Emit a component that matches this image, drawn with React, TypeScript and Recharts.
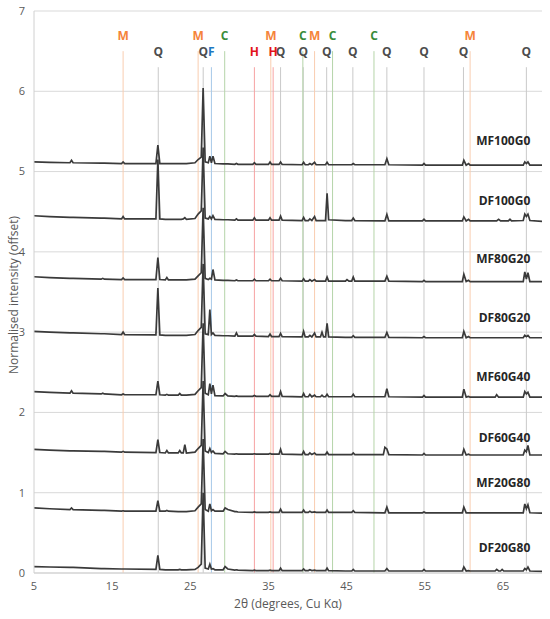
import { LineChart, Line, XAxis, YAxis, CartesianGrid, ReferenceLine, ReferenceDot } from 'recharts';

const twoTheta = [
  5, 7, 9.6, 9.8, 10.0, 13.6, 13.8, 14.0, 16.2, 16.4, 16.6,
  20.6, 20.85, 21.1, 21.8, 22.0, 22.2, 23.45, 23.65, 23.85, 24.1, 24.3, 24.5,
  25.6, 26.0, 26.4, 26.64, 26.9, 27.3, 27.5, 27.7, 27.9, 28.15,
  29.2, 29.45, 29.8, 30.7, 30.9, 31.1, 33.0, 33.2, 33.4, 35.0, 35.2, 35.4, 36.35, 36.55, 36.75,
  39.3, 39.5, 39.7, 40.1, 40.3, 40.55, 40.9, 41.1, 41.65, 41.85, 42.05, 42.3, 42.5, 42.7,
  44.85, 45.05, 45.3, 45.65, 45.85, 46.05, 49.7, 49.9, 50.15, 50.4, 54.7, 54.9, 55.1,
  59.8, 60.0, 60.3, 60.6, 60.8, 64.0, 64.2, 64.45, 64.7, 64.9, 65.1, 65.7, 65.9, 66.1,
  67.6, 67.8, 68.0, 68.2, 68.45, 70,
];

// normalised intensity of each sample (before offset)
const mf100g0 = [
  0.07, 0.065, 0.06, 0.09, 0.06, 0.055, 0.055, 0.055, 0.05, 0.07, 0.05,
  0.05, 0.28, 0.05, 0.05, 0.05, 0.05, 0.05, 0.05, 0.05, 0.05, 0.05, 0.05,
  0.06, 0.1, 0.13, 0.99, 0.07, 0.06, 0.14, 0.06, 0.14, 0.05,
  0.045, 0.045, 0.045, 0.04, 0.05, 0.04, 0.04, 0.06, 0.04, 0.04, 0.07, 0.04, 0.04, 0.07, 0.04,
  0.035, 0.065, 0.035, 0.035, 0.05, 0.035, 0.065, 0.035, 0.035, 0.035, 0.035, 0.035, 0.065, 0.035,
  0.035, 0.035, 0.035, 0.035, 0.05, 0.035, 0.035, 0.035, 0.11, 0.035, 0.03, 0.05, 0.03,
  0.03, 0.09, 0.03, 0.05, 0.03, 0.03, 0.03, 0.03, 0.03, 0.03, 0.03, 0.03, 0.03, 0.03,
  0.03, 0.07, 0.05, 0.07, 0.03, 0.03,
];
const df100g0 = [
  0.1, 0.09, 0.08, 0.08, 0.08, 0.07, 0.07, 0.07, 0.06, 0.09, 0.06,
  0.06, 0.8, 0.06, 0.055, 0.055, 0.055, 0.055, 0.055, 0.055, 0.06, 0.075, 0.055,
  0.065, 0.12, 0.16, 0.95, 0.07, 0.06, 0.09, 0.06, 0.1, 0.055,
  0.05, 0.05, 0.05, 0.045, 0.06, 0.045, 0.045, 0.075, 0.045, 0.045, 0.075, 0.045, 0.045, 0.095, 0.045,
  0.04, 0.08, 0.04, 0.04, 0.06, 0.04, 0.09, 0.04, 0.04, 0.04, 0.04, 0.04, 0.38, 0.05,
  0.04, 0.04, 0.04, 0.04, 0.07, 0.04, 0.035, 0.035, 0.115, 0.035, 0.035, 0.055, 0.035,
  0.035, 0.085, 0.035, 0.055, 0.035, 0.035, 0.035, 0.055, 0.035, 0.035, 0.035, 0.035, 0.055, 0.035,
  0.04, 0.12, 0.09, 0.12, 0.04, 0.03,
];
const mf80g20 = [
  0.09, 0.08, 0.07, 0.07, 0.07, 0.06, 0.07, 0.06, 0.055, 0.075, 0.055,
  0.055, 0.33, 0.055, 0.05, 0.08, 0.05, 0.05, 0.05, 0.05, 0.05, 0.05, 0.05,
  0.06, 0.1, 0.14, 0.95, 0.07, 0.055, 0.07, 0.06, 0.18, 0.05,
  0.045, 0.045, 0.045, 0.04, 0.05, 0.04, 0.04, 0.06, 0.04, 0.04, 0.06, 0.04, 0.04, 0.07, 0.04,
  0.035, 0.065, 0.035, 0.035, 0.055, 0.035, 0.055, 0.035, 0.035, 0.035, 0.035, 0.035, 0.085, 0.035,
  0.035, 0.055, 0.035, 0.035, 0.085, 0.035, 0.035, 0.035, 0.095, 0.035, 0.03, 0.045, 0.03,
  0.03, 0.12, 0.03, 0.045, 0.03, 0.03, 0.03, 0.03, 0.03, 0.03, 0.03, 0.03, 0.03, 0.03,
  0.03, 0.15, 0.06, 0.14, 0.03, 0.03,
];
const df80g20 = [
  0.11, 0.1, 0.09, 0.09, 0.09, 0.08, 0.08, 0.08, 0.07, 0.1, 0.07,
  0.065, 0.65, 0.065, 0.06, 0.06, 0.06, 0.06, 0.06, 0.06, 0.06, 0.06, 0.06,
  0.07, 0.12, 0.16, 0.95, 0.08, 0.07, 0.38, 0.07, 0.09, 0.06,
  0.055, 0.055, 0.055, 0.05, 0.09, 0.05, 0.05, 0.07, 0.05, 0.045, 0.075, 0.045, 0.045, 0.085, 0.045,
  0.04, 0.11, 0.04, 0.04, 0.06, 0.04, 0.09, 0.04, 0.04, 0.1, 0.04, 0.04, 0.21, 0.04,
  0.035, 0.035, 0.035, 0.035, 0.055, 0.035, 0.035, 0.035, 0.095, 0.035, 0.03, 0.045, 0.03,
  0.03, 0.11, 0.03, 0.045, 0.03, 0.03, 0.03, 0.03, 0.03, 0.03, 0.03, 0.03, 0.03, 0.03,
  0.03, 0.06, 0.045, 0.06, 0.03, 0.03,
];
const mf60g40 = [
  0.1, 0.09, 0.08, 0.11, 0.08, 0.07, 0.08, 0.07, 0.06, 0.07, 0.06,
  0.06, 0.23, 0.06, 0.055, 0.065, 0.055, 0.055, 0.075, 0.055, 0.055, 0.055, 0.055,
  0.065, 0.11, 0.15, 0.95, 0.08, 0.06, 0.2, 0.07, 0.18, 0.05,
  0.045, 0.075, 0.045, 0.04, 0.045, 0.04, 0.04, 0.05, 0.04, 0.04, 0.06, 0.04, 0.04, 0.1, 0.04,
  0.035, 0.075, 0.035, 0.035, 0.065, 0.035, 0.055, 0.035, 0.035, 0.055, 0.035, 0.035, 0.065, 0.035,
  0.035, 0.035, 0.035, 0.035, 0.065, 0.035, 0.035, 0.035, 0.135, 0.035, 0.03, 0.05, 0.03,
  0.03, 0.13, 0.03, 0.04, 0.03, 0.03, 0.06, 0.03, 0.03, 0.03, 0.03, 0.03, 0.03, 0.03,
  0.03, 0.1, 0.07, 0.09, 0.03, 0.03,
];
const df60g40 = [
  0.1, 0.09, 0.08, 0.08, 0.08, 0.075, 0.075, 0.075, 0.065, 0.075, 0.065,
  0.06, 0.22, 0.06, 0.055, 0.085, 0.055, 0.055, 0.085, 0.055, 0.055, 0.16, 0.055,
  0.065, 0.11, 0.15, 0.95, 0.08, 0.06, 0.11, 0.06, 0.08, 0.05,
  0.045, 0.075, 0.045, 0.04, 0.045, 0.04, 0.04, 0.045, 0.04, 0.04, 0.05, 0.04, 0.04, 0.1, 0.04,
  0.035, 0.075, 0.035, 0.035, 0.055, 0.035, 0.055, 0.035, 0.035, 0.035, 0.035, 0.035, 0.065, 0.035,
  0.035, 0.035, 0.035, 0.035, 0.055, 0.035, 0.035, 0.125, 0.105, 0.035, 0.03, 0.05, 0.03,
  0.03, 0.1, 0.03, 0.04, 0.03, 0.03, 0.03, 0.03, 0.03, 0.03, 0.03, 0.03, 0.03, 0.03,
  0.03, 0.09, 0.07, 0.15, 0.03, 0.03,
];
const mf20g80 = [
  0.09, 0.08, 0.07, 0.09, 0.07, 0.06, 0.06, 0.06, 0.05, 0.055, 0.05,
  0.05, 0.18, 0.05, 0.05, 0.06, 0.05, 0.045, 0.045, 0.045, 0.045, 0.045, 0.045,
  0.055, 0.1, 0.14, 0.95, 0.07, 0.05, 0.14, 0.055, 0.07, 0.05,
  0.05, 0.09, 0.07, 0.045, 0.045, 0.04, 0.035, 0.04, 0.035, 0.035, 0.04, 0.035, 0.035, 0.075, 0.035,
  0.035, 0.065, 0.035, 0.035, 0.05, 0.035, 0.04, 0.035, 0.035, 0.035, 0.035, 0.035, 0.065, 0.035,
  0.035, 0.035, 0.035, 0.035, 0.055, 0.035, 0.03, 0.03, 0.1, 0.03, 0.03, 0.04, 0.03,
  0.03, 0.1, 0.03, 0.03, 0.03, 0.03, 0.03, 0.03, 0.03, 0.03, 0.03, 0.03, 0.03, 0.03,
  0.03, 0.14, 0.08, 0.13, 0.03, 0.025,
];
const df20g80 = [
  0.08, 0.075, 0.07, 0.07, 0.07, 0.055, 0.055, 0.055, 0.05, 0.05, 0.05,
  0.045, 0.22, 0.045, 0.04, 0.04, 0.04, 0.04, 0.045, 0.04, 0.04, 0.04, 0.04,
  0.045, 0.07, 0.11, 1.0, 0.06, 0.05, 0.11, 0.05, 0.055, 0.04,
  0.04, 0.08, 0.05, 0.035, 0.04, 0.035, 0.03, 0.035, 0.03, 0.03, 0.035, 0.03, 0.03, 0.06, 0.03,
  0.03, 0.05, 0.03, 0.03, 0.04, 0.03, 0.035, 0.03, 0.03, 0.03, 0.03, 0.03, 0.06, 0.03,
  0.025, 0.025, 0.025, 0.025, 0.045, 0.025, 0.025, 0.025, 0.055, 0.025, 0.025, 0.045, 0.025,
  0.025, 0.075, 0.025, 0.03, 0.025, 0.025, 0.045, 0.025, 0.025, 0.045, 0.025, 0.025, 0.025, 0.025,
  0.025, 0.055, 0.04, 0.075, 0.025, 0.02,
];

const samples = ['MF100G0', 'DF100G0', 'MF80G20', 'DF80G20', 'MF60G40', 'DF60G40', 'MF20G80', 'DF20G80'];
const intensities = [mf100g0, df100g0, mf80g20, df80g20, mf60g40, df60g40, mf20g80, df20g80];
const offsets = [5.05, 4.35, 3.6, 2.9, 2.16, 1.44, 0.72, 0];

// reference peak positions (2θ) per phase
const mPeaks = [16.4, 26.0, 35.3, 40.9, 60.8];
const qPeaks = [20.9, 26.65, 36.55, 39.45, 42.45, 45.8, 50.15, 54.9, 59.95, 68.0];
const cPeaks = [29.4, 39.4, 43.2, 48.5];
const hPeaks = [33.2, 35.6];
const fPeaks = [27.7];

const xTicks = [5, 15, 25, 35, 45, 55, 65];
const yTicks = [0, 1, 2, 3, 4, 5, 6, 7];

const phases = [
  { name: 'Q', peaks: qPeaks, top: 6.3, text: '#4d4d4d', line: '#c9c9c9' },
  { name: 'H', peaks: hPeaks, top: 6.3, text: '#e3131b', line: '#f7a3a3' },
  { name: 'F', peaks: fPeaks, top: 6.3, text: '#1f78c1', line: '#a6c8e8' },
  { name: 'C', peaks: cPeaks, top: 6.5, text: '#3a8c3a', line: '#b5d4a9' },
  { name: 'M', peaks: mPeaks, top: 6.5, text: '#f5843a', line: '#f9cdb0' },
];

// where the sample names sit above their own trace
const nameX = 68.5;
const nameLift = [0.34, 0.29, 0.32, 0.28, 0.28, 0.25, 0.4, 0.32];

export default function App() {
  const rows = twoTheta.map((x, i) => {
    const row: Record<string, number> = { x };
    samples.forEach((s, k) => {
      row[s] = offsets[k] + intensities[k][i];
    });
    return row;
  });

  return (
    <div
      style={{
        position: 'absolute',
        left: 0,
        top: 0,
        width: 550,
        height: 619,
        background: '#fff',
        fontFamily: '"Open Sans", sans-serif',
      }}
    >
      <LineChart width={550} height={619} data={rows} margin={{ top: 11, right: 8, bottom: 6, left: 0 }}>
        <CartesianGrid vertical={false} stroke="#d9d9d9" />
        <XAxis
          dataKey="x"
          type="number"
          domain={[5, 70]}
          ticks={xTicks}
          allowDataOverflow
          height={40}
          tickLine={false}
          tickMargin={3}
          axisLine={{ stroke: '#d0d0d0' }}
          tick={{ fill: '#595959', fontSize: 11 }}
          label={{ value: '2θ (degrees, Cu Kα)', position: 'insideBottom', offset: 5, fill: '#595959', fontSize: 12 }}
        />
        <YAxis
          type="number"
          domain={[0, 7]}
          ticks={yTicks}
          width={34}
          tickLine={false}
          tickMargin={3}
          axisLine={{ stroke: '#d0d0d0' }}
          tick={{ fill: '#595959', fontSize: 11 }}
          label={{
            content: (props: any) => {
              const vb = props.viewBox || { x: 0, y: 11, width: 34, height: 562 };
              const cx = vb.x + 13;
              const cy = vb.y + vb.height / 2 + 3;
              return (
                <text
                  x={cx}
                  y={cy}
                  transform={`rotate(-90 ${cx} ${cy})`}
                  textAnchor="middle"
                  dominantBaseline="central"
                  fill="#595959"
                  fontSize={12}
                >
                  Normalised intensity (offset)
                </text>
              );
            },
          }}
        />
        {phases.map((p) =>
          p.peaks.map((pos) => (
            <ReferenceLine
              key={`${p.name}-${pos}`}
              segment={[
                { x: pos, y: 0 },
                { x: pos, y: p.top },
              ]}
              stroke={p.line}
              strokeWidth={1}
              label={{ value: p.name, position: 'top', offset: 11, fill: p.text, fontSize: 12, fontWeight: 'bold' }}
            />
          ))
        )}
        {samples.map((s) => (
          <Line
            key={s}
            type="linear"
            dataKey={s}
            stroke="#3a3a3a"
            strokeWidth={1.7}
            dot={false}
            isAnimationActive={false}
          />
        ))}
        {samples.map((s, k) => (
          <ReferenceDot
            key={`name-${s}`}
            x={nameX}
            y={offsets[k] + nameLift[k]}
            r={0}
            fill="none"
            stroke="none"
            label={{ value: s, position: 'left', offset: 0, fill: '#262626', fontSize: 12, fontWeight: 'bold' }}
          />
        ))}
      </LineChart>
    </div>
  );
}
